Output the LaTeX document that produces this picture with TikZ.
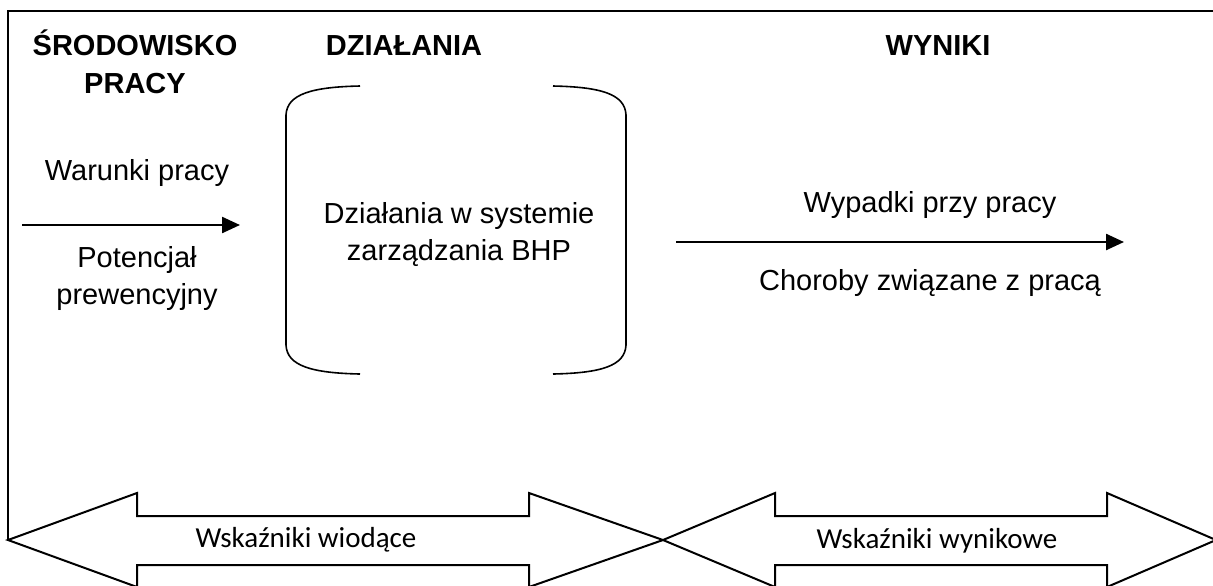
\documentclass[tikz,border=0pt]{standalone}
\usepackage{fontspec}
\setmainfont{Liberation Sans}
\newfontfamily\indfont{Carlito}
\usetikzlibrary{arrows.meta}
\tikzset{
  every picture/.style={line width=0.5pt},
  head/.style={font=\fontsize{14.5}{19}\selectfont\bfseries, align=center, inner sep=0pt, anchor=base},
  txt/.style={font=\fontsize{14.5}{18.5}\selectfont, align=center, inner sep=0pt, anchor=base},
  ind/.style={font=\indfont\fontsize{14.5}{17}\selectfont, inner sep=0pt, anchor=base},
  flow/.style={-{Triangle[length=9pt,width=8pt]}, line width=1.2pt},
  frame/.style={line width=1.2pt},
  brace/.style={line width=0.8pt},
  band/.style={line width=1pt, line join=miter},
}
\begin{document}
\begin{tikzpicture}[x=0.5pt, y=-0.5pt]
  \useasboundingbox (0,0) rectangle (1213,585);
  \clip (0,0) rectangle (1213,585);
  % frame
  \draw[frame] (8,540) -- (8,11) -- (1214,11);
  % column titles
  \node[head] (env) at (135,93) {ŚRODOWISKO\\PRACY};
  \node[head] (act) at (404,55) {DZIAŁANIA};
  \node[head] (res) at (938,55) {WYNIKI};
  % left column
  \node[txt] (cond) at (137,180) {Warunki pracy};
  \coordinate (inA) at (22,225);
  \coordinate (inB) at (240,225);
  \draw[flow] (inA) -- (inB);
  \node[txt] (prev) at (137,304) {Potencjał\\prewencyjny};
  % middle: bracketed box
  \draw[brace] (360,86) .. controls (312,87) and (287,94) .. (286,115) -- (286,345)
    .. controls (287,366) and (312,373) .. (360,374);
  \draw[brace] (553,86) .. controls (601,87) and (625,94) .. (626,115) -- (626,345)
    .. controls (625,366) and (601,373) .. (553,374);
  \node[txt] (sys) at (459,260) {Działania w systemie\\zarządzania BHP};
  % right column
  \node[txt] (acc) at (930,212) {Wypadki przy pracy};
  \coordinate (outA) at (676,242);
  \coordinate (outB) at (1124,242);
  \draw[flow] (outA) -- (outB);
  \node[txt] (ill) at (930,290) {Choroby związane z pracą};
  % indicator bands
  \draw[band] (8,540) -- (137,493) -- (137,516) -- (529,516) -- (529,493) -- (663,540)
    -- (529,587) -- (529,565) -- (137,565) -- (137,587) -- cycle;
  \node[ind] (lead) at (306,547) {Wskaźniki wiodące};
  \draw[band] (663,540) -- (775,493) -- (775,516) -- (1107,516) -- (1107,493) -- (1216,540)
    -- (1107,587) -- (1107,565) -- (775,565) -- (775,587) -- cycle;
  \node[ind] (lag) at (937,548) {Wskaźniki wynikowe};
\end{tikzpicture}
\end{document}
